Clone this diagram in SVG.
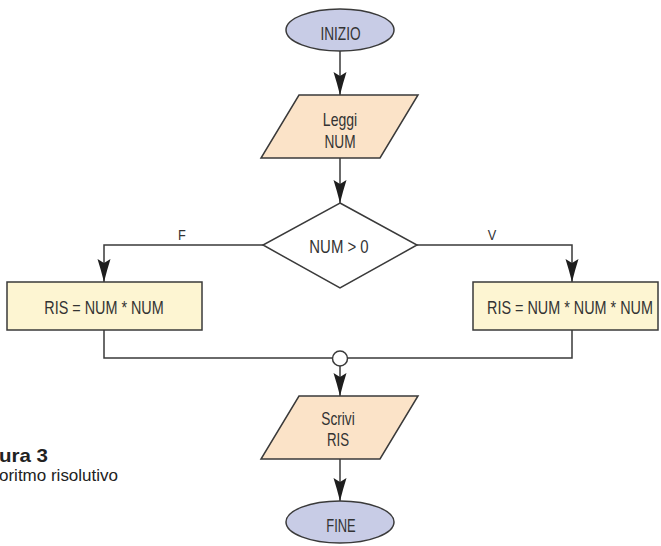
<svg xmlns="http://www.w3.org/2000/svg" width="661" height="546" viewBox="0 0 661 546">
  <style>
    .edge { fill: none; stroke: #3a3a3a; stroke-width: 1.5; }
    .term { fill: #c8cce6; stroke: #3a3a3a; stroke-width: 1.5; }
    .io { fill: #fbe3c8; stroke: #3a3a3a; stroke-width: 1.5; }
    .proc { fill: #fdf5d2; stroke: #3a3a3a; stroke-width: 1.5; }
    .dec { fill: #ffffff; stroke: #3a3a3a; stroke-width: 1.5; }
    .lbl { font-family: "Liberation Sans", Arial, sans-serif; font-size: 18px; fill: #333333; text-anchor: middle; }
    .tag { font-family: "Liberation Sans", Arial, sans-serif; font-size: 15px; fill: #333333; text-anchor: middle; }
    .cap { font-family: "Liberation Sans", Arial, sans-serif; fill: #222222; }
  </style>
  <defs>
    <marker id="arrow" markerUnits="userSpaceOnUse" viewBox="-24 -7 25 14" refX="0" refY="0" markerWidth="25" markerHeight="14" orient="auto" overflow="visible">
      <path d="M0,0 Q-12,-3 -23,-6.5 L-19,0 L-23,6.5 Q-12,3 0,0 Z" fill="#1e1e1e"/>
    </marker>
  </defs>

  <!-- connectors -->
  <g id="connectors">
    <path class="edge" d="M340,51 V95" marker-end="url(#arrow)"/>
    <path class="edge" d="M340,158 V203" marker-end="url(#arrow)"/>
    <path class="edge" d="M263,245 H104 V282" marker-end="url(#arrow)"/>
    <path class="edge" d="M417,245 H572 V282" marker-end="url(#arrow)"/>
    <path class="edge" d="M104,330 V358 H572 V330"/>
    <circle cx="340" cy="358.5" r="7.5" fill="#ffffff" stroke="#3a3a3a" stroke-width="1.5"/>
    <path class="edge" d="M340,366 V396" marker-end="url(#arrow)"/>
    <path class="edge" d="M340,459 V501" marker-end="url(#arrow)"/>
    <text class="tag" transform="translate(182,240) scale(0.85,1)">F</text>
    <text class="tag" transform="translate(492,240) scale(0.85,1)">V</text>
  </g>

  <!-- labels are drawn in a narrowed face: scale(0.8,1) -->
  <g id="start">
    <ellipse class="term" cx="340" cy="30" rx="54" ry="21"/>
    <text class="lbl" transform="translate(340.5,40) scale(0.76,1)">INIZIO</text>
  </g>

  <g id="read">
    <polygon class="io" points="299,95 418,95 380,158 261,158"/>
    <text class="lbl" transform="translate(340,126) scale(0.78,1)">Leggi</text>
    <text class="lbl" transform="translate(340,148) scale(0.76,1)">NUM</text>
  </g>

  <g id="test">
    <polygon class="dec" points="340,203 417,245 340,288 263,245"/>
    <text class="lbl" transform="translate(339,253) scale(0.83,1)">NUM &gt; 0</text>
  </g>

  <g id="square">
    <rect class="proc" x="7" y="282" width="195" height="48"/>
    <text class="lbl" transform="translate(104,314) scale(0.8,1)">RIS = NUM * NUM</text>
  </g>

  <g id="cube">
    <rect class="proc" x="473" y="282" width="185" height="48"/>
    <text class="lbl" transform="translate(570,314) scale(0.8,1)">RIS = NUM * NUM * NUM</text>
  </g>

  <g id="write">
    <polygon class="io" points="299,396 418,396 380,459 261,459"/>
    <text class="lbl" transform="translate(338,425) scale(0.76,1)">Scrivi</text>
    <text class="lbl" transform="translate(338,446) scale(0.74,1)">RIS</text>
  </g>

  <g id="end">
    <ellipse class="term" cx="340" cy="522" rx="54" ry="21"/>
    <text class="lbl" transform="translate(341,532) scale(0.72,1)">FINE</text>
  </g>

  <!-- caption -->
  <g id="caption">
    <text class="cap" x="-1" y="462" font-size="19" font-weight="bold" textLength="49" lengthAdjust="spacingAndGlyphs">ura 3</text>
    <text class="cap" x="-1" y="481" font-size="16" textLength="119" lengthAdjust="spacingAndGlyphs">oritmo risolutivo</text>
  </g>
</svg>
